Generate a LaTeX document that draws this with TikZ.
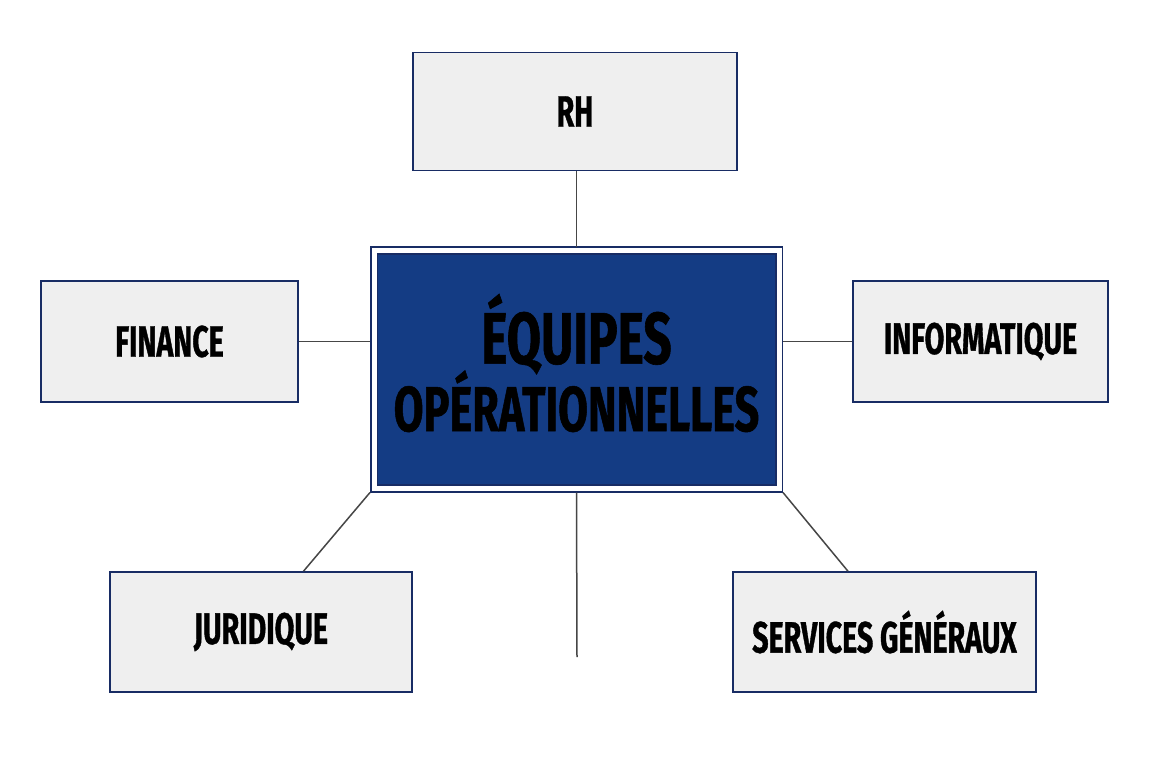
\documentclass[tikz,border=0pt]{standalone}
\usepackage{fontspec}
\newfontfamily\labelfont{Fira Sans}[FakeStretch=0.65, FakeBold=0.8]
\newfontfamily\corefont{Fira Sans}[FakeStretch=0.68, FakeBold=0.8]
\definecolor{navyline}{RGB}{24, 44, 100}
\definecolor{navyfill}{RGB}{20, 60, 132}
\definecolor{boxgray}{RGB}{239, 239, 239}
\definecolor{linkgray}{RGB}{70, 70, 70}
\usetikzlibrary{positioning, calc}
\tikzset{
  dept/.style={draw=navyline, line width=1.6pt, fill=boxgray, inner sep=0pt, minimum height=118pt,
    font=\labelfont\bfseries\fontsize{44}{46}\selectfont, text=black},
  core/.style={draw=navyline, line width=1.6pt, double=white, double distance=5pt, fill=navyfill,
    outer sep=4pt, minimum width=405pt, minimum height=238pt, align=center, text=black},
  link/.style={draw=linkgray, line width=1.5pt}
}

\begin{document}
\begin{tikzpicture}[x=1pt, y=-1pt]
  \useasboundingbox[fill=white] (0, 0) rectangle (1152, 768);

  % Central team
  \node[core] (team) at (576.5, 369.5) {
    {\corefont\bfseries\fontsize{73}{67}\selectfont ÉQUIPES}\\[-5pt]
    {\corefont\bfseries\fontsize{63.5}{67}\selectfont OPÉRATIONNELLES}\rule[-14pt]{0pt}{1pt}
  };

  % Support functions
  \node[dept, minimum width=324pt] (rh) at (575, 111.5) {RH};
  \node[dept, minimum width=257pt, minimum height=121pt] (finance) at (169.5, 341.5) {FINANCE};
  \node[dept, minimum width=255pt, minimum height=121pt] (info) at (980.5, 341.5) {INFORMATIQUE};
  \node[dept, minimum width=302pt, minimum height=120pt] (juridique) at (261, 632) {JURIDIQUE};
  \node[dept, minimum width=303pt, minimum height=120pt] (services) at (884.5, 632) {SERVICES GÉNÉRAUX};

  \coordinate (tail) at (577, 657);

  % Links
  \draw[link] (team.north) -- (team.north |- rh.south);
  \draw[link] (finance.east) -- (finance.east -| team.west);
  \draw[link] (info.west) -- (info.west -| team.east);
  \draw[link] (team.south west) -- ($(juridique.north west)!0.64!(juridique.north east)$);
  \draw[link] (team.south east) -- ($(services.north west)!0.38!(services.north east)$);
  \draw[link] (team.south) -- (tail);
\end{tikzpicture}
\end{document}
